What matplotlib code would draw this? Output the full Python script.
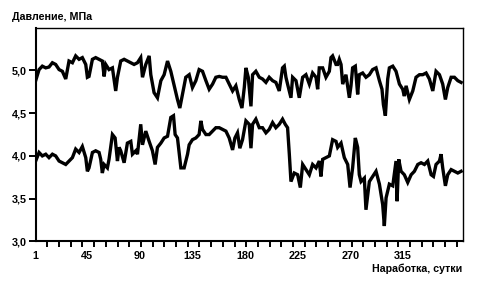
# Давление в двух точках в зависимости от наработки (сутки)
import matplotlib
matplotlib.use("Agg")
import matplotlib.pyplot as plt
import numpy as np

plt.rcParams['font.family'] = ['Liberation Sans', 'DejaVu Sans']

# верхняя кривая
days_hi = [1, 3.9, 6.7, 9.6, 12.4, 15.3, 18.1, 21, 23.8, 26.7, 29.5, 32.4, 35.2, 38.1, 40.9,
           43.8, 45.2, 46.6, 49.5, 52.3, 55.2, 58, 59.5, 60.9, 63.7, 66.6, 69.4, 70.9, 73.7,
           76.6, 79.4, 82.3, 85.1, 88, 90.8, 92.3, 95.1, 98, 99.4, 102.2, 105.1, 108, 110.8,
           113.7, 116.5, 119.4, 122.2, 124.2, 126.5, 129.3, 132.2, 135, 137.9, 140.7, 143.6,
           146.5, 149.3, 152.2, 155, 157.9, 160.7, 163.6, 166.4, 169.3, 172.1, 175, 177.3,
           179.3, 180.7, 182.7, 185, 186.4, 189.2, 192.1, 194.9, 197.8, 200.6, 203.5, 206.3,
           209.2, 212, 213.5, 214.9, 216.3, 219.2, 220.6, 223.5, 226.3, 229.2, 232, 234.9,
           237.7, 240.6, 242, 243.4, 246.3, 249.1, 252, 253.4, 254.8, 257.7, 259.1, 260.5,
           262, 263.4, 266.2, 269.1, 270.5, 271.9, 274.2, 276.2, 277.6, 280.5, 283.3, 286.2,
           289, 291.9, 294.8, 297, 298.2, 299.9, 301.9, 303.3, 306.2, 309, 311.9, 314.7,
           316.1, 317.6, 320.4, 323.3, 326.1, 329, 331.8, 334.7, 337.5, 340.4, 343.2, 346.1,
           348.9, 351.2, 353.2, 356.1, 358.9, 361.8, 364.6]
p_hi = [4.88, 5.01, 5.05, 5.03, 5.04, 5.09, 5.07, 5.01, 4.99, 4.90, 5.11, 5.09, 5.17, 5.13, 5.15,
        5.07, 4.92, 4.93, 5.13, 5.15, 5.13, 5.11, 4.93, 5.07, 5.01, 5.03, 4.76, 4.92, 5.11,
        5.13, 5.11, 5.09, 5.07, 5.09, 5.15, 4.92, 5.07, 5.17, 4.95, 4.74, 4.68, 4.88, 4.95,
        5.11, 4.99, 4.82, 4.66, 4.56, 4.72, 4.92, 4.95, 4.80, 4.88, 5.01, 4.99,
        4.88, 4.78, 4.84, 4.92, 4.93, 4.92, 4.92, 4.84, 4.76, 4.82, 4.66, 4.56,
        4.80, 5.03, 4.92, 4.58, 4.95, 4.99, 4.92, 4.90, 4.86, 4.92, 4.88, 4.86,
        4.76, 5.03, 5.05, 4.92, 4.84, 4.68, 4.92, 4.88, 4.68, 4.92, 4.95, 4.84,
        4.97, 4.92, 4.78, 5.03, 5.03, 4.92, 4.99, 5.15, 5.17, 5.07, 5.07, 5.13,
        5.07, 4.84, 4.95, 4.68, 4.82, 5.03, 5.05, 4.72, 4.95, 4.97, 4.92, 4.95,
        5.01, 5.03, 4.88, 4.78, 4.60, 4.47, 4.90, 5.03, 5.05, 4.99, 4.84, 4.78,
        4.70, 4.82, 4.66, 4.76, 4.92, 4.95, 4.95, 4.97, 4.90, 4.76, 4.99, 4.95,
        4.84, 4.66, 4.80, 4.92, 4.92, 4.88, 4.86]

# нижняя кривая
days_lo = [1, 3.9, 6.7, 9.6, 12.4, 15.3, 18.1, 21, 23.8, 26.7, 29.5, 32.4, 35.2, 38.1, 40.9,
           43.8, 45.2, 46.6, 49.5, 52.3, 55.2, 56.6, 58, 59.5, 62.3, 63.7, 66.6, 68.9, 70.9,
           72.3, 73.7, 76.6, 79.4, 82.3, 83.7, 86.6, 88, 90.8, 92.3, 95.1, 98, 100.8, 103.1,
           105.1, 108, 110.8, 113.7, 116.5, 118.8, 120.2, 122.2, 125.1, 127.9, 130.8, 132.2,
           135, 137.9, 140.7, 142.2, 143.6, 146.5, 149.3, 152.2, 155, 157.9, 160.7, 163.6,
           166.4, 169.3, 171.3, 173.5, 175.5, 177.8, 180.7, 183.5, 185, 186.4, 189.2, 192.1,
           194.9, 197.8, 200.6, 203.5, 206.3, 209.2, 212, 214.3, 216.3, 217.8, 219.2, 222,
           224.9, 227.2, 229.2, 232, 234.9, 237.7, 240.6, 243.4, 244.8, 246.3, 249.1, 252,
           254.8, 257.7, 259.1, 262, 264.8, 267.7, 269.7, 271.9, 274.2, 276.2, 277.6, 279.1,
           281.9, 283.3, 286.2, 289, 291.9, 294.8, 297.6, 299, 300.5, 303.3, 306.2, 309,
           309.9, 311.3, 313.3, 316.1, 319, 321.9, 324.7, 327.6, 330.4, 333.3, 336.1, 339,
           341, 343.2, 346.1, 347.5, 348.9, 351.2, 353.2, 356.1, 358.9, 361.8, 364.6]
p_lo = [3.94, 4.04, 4.00, 4.02, 3.98, 4.02, 4.00, 3.94, 3.92, 3.90, 3.94, 3.98, 4.08, 4.04, 4.11,
        3.98, 3.82, 3.86, 4.04, 4.06, 4.04, 3.96, 3.80, 3.90, 3.86, 3.96, 4.25, 4.21, 3.94,
        4.10, 4.06, 3.92, 4.15, 4.17, 4.02, 4.06, 4.02, 4.37, 4.13, 4.29, 4.17, 4.06, 3.90,
        4.10, 4.15, 4.21, 4.23, 4.45, 4.47, 4.25, 4.21, 3.86, 3.86, 4.02, 4.13,
        4.19, 4.21, 4.25, 4.41, 4.31, 4.25, 4.25, 4.29, 4.33, 4.33, 4.31, 4.29,
        4.21, 4.07, 4.21, 4.27, 4.09, 4.19, 4.41, 4.37, 4.09, 4.37, 4.43, 4.33,
        4.33, 4.27, 4.31, 4.39, 4.33, 4.37, 4.43, 4.37, 4.33, 4.02, 3.70, 3.80,
        3.78, 3.63, 3.90, 3.84, 3.78, 3.90, 3.86, 3.94, 3.76, 3.96, 3.98, 4.00,
        4.19, 4.17, 4.10, 4.15, 3.98, 3.90, 3.63, 3.86, 4.21, 4.10, 3.78, 3.70,
        3.74, 3.37, 3.70, 3.76, 3.82, 3.67, 3.43, 3.18, 3.51, 3.67, 3.65, 3.94,
        3.47, 3.96, 3.82, 3.78, 3.69, 3.78, 3.82, 3.90, 3.92, 3.90, 3.94, 3.78,
        3.76, 3.90, 3.94, 4.02, 3.86, 3.65, 3.78, 3.84, 3.82, 3.80, 3.82]

x_labels = [1, 45, 90, 135, 180, 225, 270, 315]
y_ticks = [3.0, 3.5, 4.0, 4.5, 5.0]

fig = plt.figure(figsize=(4.82, 2.84), dpi=100)
ax = fig.add_axes([0.074, 0.15, 0.886, 0.7525])

ax.plot(days_hi, p_hi, color='black', lw=2.4, solid_joinstyle='miter')
ax.plot(days_lo, p_lo, color='black', lw=2.4, solid_joinstyle='miter')

ax.set_xlim(1, 366)
ax.set_ylim(3.0, 5.5)

ax.set_yticks(y_ticks)
ax.set_yticklabels([f"{v:.1f}".replace('.', ',') for v in y_ticks])
ax.set_xticks(x_labels)
ax.set_xticklabels([str(v) for v in x_labels])
ax.set_xticks(np.arange(1, 366, 10), minor=True)

ax.tick_params(axis='x', which='major', length=0, pad=7, labelsize=7.8)
ax.tick_params(axis='x', which='minor', length=4, width=1.4, direction='out')
ax.tick_params(axis='y', which='major', length=5, width=1.4, pad=1.5, labelsize=7.8)
for lab in ax.get_xticklabels() + ax.get_yticklabels():
    lab.set_fontweight('bold')

for s in ['left', 'bottom']:
    ax.spines[s].set_linewidth(1.5)
for s in ['top', 'right']:
    ax.spines[s].set_linewidth(1.0)

fig.text(11.7 / 482, 1 - 17.5 / 284, 'Давление, МПа', fontsize=7.7, fontweight='bold',
         va='center', ha='left')
fig.text(462.5 / 482, 1 - 269 / 284, 'Наработка, сутки', fontsize=7.7, fontweight='bold',
         va='center', ha='right')

fig.savefig('out.png', dpi=100)
